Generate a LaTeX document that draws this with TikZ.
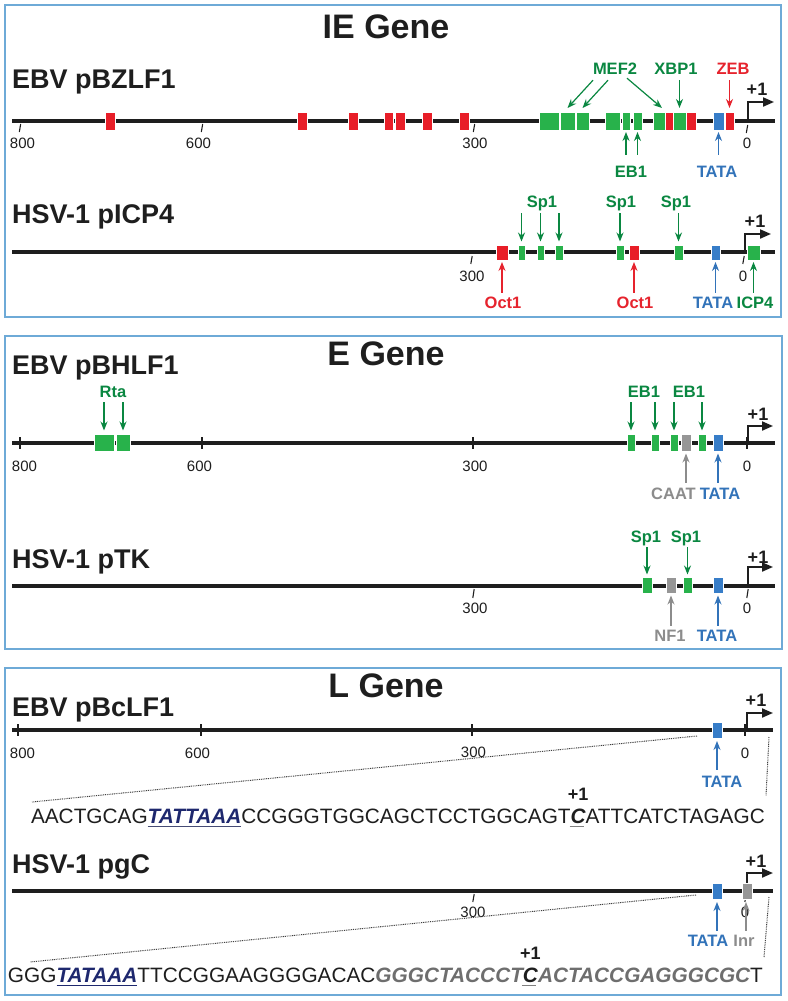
\documentclass[tikz,border=0pt]{standalone}
\usepackage{fontspec}
\setmainfont{Liberation Sans}
\usetikzlibrary{arrows.meta}
\definecolor{gbox}{RGB}{40,178,75}
\definecolor{gtxt}{RGB}{10,135,65}
\definecolor{rbox}{RGB}{232,30,40}
\definecolor{rtxt}{RGB}{230,35,45}
\definecolor{bbox}{RGB}{55,125,200}
\definecolor{btxt}{RGB}{50,115,185}
\definecolor{gybox}{RGB}{150,150,150}
\definecolor{gytxt}{RGB}{140,140,140}
\definecolor{navy}{RGB}{30,40,110}
\definecolor{frame}{RGB}{110,170,215}
\definecolor{ink}{RGB}{30,30,30}
\definecolor{seqgray}{RGB}{110,110,110}
\newcommand\mybox[4]{\node[bxs, fill=#3, minimum width=#4pt] (#1) at #2 {};}
\tikzset{
 dna/.style={line width=4pt, draw=ink},
 bxs/.style={rectangle, inner sep=0pt, outer sep=0pt, minimum height=17pt, draw=white, line width=0.4pt},
 gn/.style={anchor=base west, inner sep=0pt, text=ink, font={\fontsize{27}{30}\selectfont\bfseries}},
 ttl/.style={anchor=base, inner sep=0pt, text=ink, font={\fontsize{34}{38}\selectfont\bfseries}},
 lab/.style={anchor=base, inner sep=0pt, text height=12pt, text depth=0pt, font={\fontsize{16.5}{18}\selectfont\bfseries}},
 tk/.style={anchor=base, inner sep=0pt, text=ink, font={\fontsize{15}{17}\selectfont}},
 pone/.style={anchor=base, inner sep=0pt, text=ink, font={\fontsize{18}{20}\selectfont\bfseries}},
 sarr/.style={line width=1.2pt, -{Stealth[length=9pt,width=7pt]}},
 tss/.style={line width=2pt, draw=ink, -{Triangle[length=11pt,width=9pt]}},
 tick/.style={line width=1.1pt, draw=ink},
 frm/.style={draw=frame, line width=1.2pt},
 dotl/.style={dash pattern=on 0.9pt off 0.9pt, line width=1pt, draw=black!75},
 seq/.style={anchor=base west, inner sep=0pt, outer sep=0pt, text=ink, font={\fontsize{20.8}{24}\selectfont}},
 seqb/.style={seq, font={\fontsize{20.8}{24}\selectfont\bfseries\itshape}},
}
\begin{document}
\begin{tikzpicture}[x=1pt,y=-1pt]
\useasboundingbox[fill=white] (0,0) rectangle (787,1001);
% frames
\draw[frm] (5,5) rectangle (781,317);
\draw[frm] (5,336) rectangle (782,649);
\draw[frm] (5,668) rectangle (781,995);
% titles
\node[ttl] (T1) at (386,38) {IE Gene};
\node[ttl] (T2) at (386,365) {E Gene};
\node[ttl] (T3) at (386,697) {L Gene};
% gene names
\node[gn] (G1) at (12,88) {EBV pBZLF1};
\node[gn] (G2) at (12,223) {HSV-1 pICP4};
\node[gn] (G3) at (12,374) {EBV pBHLF1};
\node[gn] (G4) at (12,568) {HSV-1 pTK};
\node[gn] (G5) at (12,716) {EBV pBcLF1};
\node[gn] (G6) at (12,873) {HSV-1 pgC};

% ================= LINE 1 =================
\draw[dna] (12,121) -- (775,121);
\draw[tick] (20.7,124) -- (19.3,132);
\draw[tick] (202.7,124) -- (201.3,132);
\draw[tick] (474.7,124) -- (473.3,132);
\draw[tick] (747.7,125) -- (746.3,133);
\node[tk] (k11) at (22.5,148) {800};
\node[tk] (k12) at (198.5,148) {600};
\node[tk] (k13) at (475,148) {300};
\node[tk] (k14) at (747,148) {0};
\coordinate (s1) at (748,121); \coordinate (e1) at (774,102);
\draw[tss] (s1) |- (e1);
\node[pone] (p1) at (757,95) {+1};
\begin{scope}[bxs/.append style={minimum height=18pt}]
\mybox{a1}{(110,121)}{rbox}{10}
\mybox{a2}{(302.5,121)}{rbox}{10}
\mybox{a3}{(353,121)}{rbox}{10}
\mybox{a4}{(388.5,121)}{rbox}{9.5}
\mybox{a5}{(400,121)}{rbox}{10}
\mybox{a6}{(427,121)}{rbox}{10}
\mybox{a7}{(464.5,121)}{rbox}{10}
\mybox{g1}{(549,121)}{gbox}{20}
\mybox{g2}{(567.5,121)}{gbox}{15}
\mybox{g3}{(582.5,121)}{gbox}{13}
\mybox{g4}{(612.5,121)}{gbox}{15}
\mybox{g5}{(626,121)}{gbox}{8}
\mybox{g6}{(637.5,121)}{gbox}{9}
\mybox{g7}{(659,121)}{gbox}{12}
\mybox{r8}{(669,121)}{rbox}{8}
\mybox{g8}{(679.5,121)}{gbox}{13}
\mybox{r9}{(691,121)}{rbox}{10}
\mybox{bl1}{(718.5,121)}{bbox}{11}
\mybox{r10}{(729.5,121)}{rbox}{9}
\end{scope}
\node[lab, text=gtxt] (mef) at (615,74) {MEF2};
\node[lab, text=gtxt] (xbp) at (676,74) {XBP1};
\node[lab, text=rtxt] (zeb) at (733,74) {ZEB};
\node[lab, text=gtxt] (eb) at (631,177) {EB1};
\node[lab, text=btxt] (ta1) at (717,177) {TATA};
\draw[sarr, gtxt] ([xshift=-22pt,yshift=-6pt]mef.south) -- ([yshift=4pt]g2.north);
\draw[sarr, gtxt] ([xshift=-7pt,yshift=-6pt]mef.south) -- ([yshift=4pt]g3.north);
\draw[sarr, gtxt] ([xshift=12pt,yshift=-4pt]mef.south) -- ([xshift=3pt,yshift=4pt]g7.north);
\draw[sarr, gtxt, shorten <=6pt, shorten >=4pt] (g8.north |- xbp.south) -- (g8.north);
\draw[sarr, rtxt, shorten <=6pt, shorten >=4pt] (r10.north |- zeb.south) -- (r10.north);
\draw[sarr, gtxt, shorten <=10pt, shorten >=2pt] (g5.south |- eb.north) -- (g5.south);
\draw[sarr, gtxt, shorten <=10pt, shorten >=2pt] (g6.south |- eb.north) -- (g6.south);
\draw[sarr, btxt, shorten <=10pt, shorten >=2pt] (bl1.south |- ta1.north) -- (bl1.south);

% ================= LINE 2 =================
\draw[dna] (12,252) -- (775,252);
\draw[tick] (472.2,256) -- (470.8,264);
\draw[tick] (744.2,256) -- (742.8,264);
\node[tk] (k21) at (472,281) {300};
\node[tk] (k22) at (743,281) {0};
\coordinate (s2) at (745,252); \coordinate (e2) at (771,234);
\draw[tss] (s2) |- (e2);
\node[pone] (p2) at (755,227) {+1};
\begin{scope}[bxs/.append style={minimum height=15pt}]
\mybox{c1}{(502,252.5)}{rbox}{12}
\mybox{c2}{(521.5,252.5)}{gbox}{7}
\mybox{c3}{(540.5,252.5)}{gbox}{7}
\mybox{c4}{(559,252.5)}{gbox}{8}
\mybox{c5}{(620,252.5)}{gbox}{8}
\mybox{c6}{(634,252.5)}{rbox}{10}
\mybox{c7}{(678.5,252.5)}{gbox}{9}
\mybox{c8}{(715.5,252.5)}{bbox}{9}
\mybox{c9}{(753.5,252.5)}{gbox}{13}
\end{scope}
\node[lab, text=gtxt] (spa) at (542,207) {Sp1};
\node[lab, text=gtxt] (spb) at (621,207) {Sp1};
\node[lab, text=gtxt] (spc) at (676,207) {Sp1};
\node[lab, text=rtxt] (oca) at (503,308) {Oct1};
\node[lab, text=rtxt] (ocb) at (635,308) {Oct1};
\node[lab, text=btxt] (ta2) at (713,308) {TATA};
\node[lab, text=gtxt] (icp) at (755,308) {ICP4};
\draw[sarr, gtxt, shorten <=6pt, shorten >=3.5pt] (c2.north |- spa.south) -- (c2.north);
\draw[sarr, gtxt, shorten <=6pt, shorten >=3.5pt] (c3.north |- spa.south) -- (c3.north);
\draw[sarr, gtxt, shorten <=6pt, shorten >=3.5pt] (c4.north |- spa.south) -- (c4.north);
\draw[sarr, gtxt, shorten <=6pt, shorten >=3.5pt] (c5.north |- spb.south) -- (c5.north);
\draw[sarr, gtxt, shorten <=6pt, shorten >=3.5pt] (c7.north |- spc.south) -- (c7.north);
\draw[sarr, rtxt, shorten <=3pt, shorten >=2pt] (c1.south |- oca.north) -- (c1.south);
\draw[sarr, rtxt, shorten <=3pt, shorten >=2pt] (c6.south |- ocb.north) -- (c6.south);
\draw[sarr, btxt, shorten <=3pt, shorten >=2pt] (c8.south |- ta2.north) -- (c8.south);
\draw[sarr, gtxt, shorten <=3pt, shorten >=2pt] (c9.south |- icp.north) -- (c9.south);

% ================= LINE 3 =================
\draw[dna] (12,443) -- (775,443);
\draw[tick] (20,437) -- (20,449);
\draw[tick] (202,437) -- (202,449);
\draw[tick] (473,437) -- (473,449);
\draw[tick] (747,437) -- (747,449);
\node[tk] (k31) at (24.5,471) {800};
\node[tk] (k32) at (199.5,471) {600};
\node[tk] (k33) at (475,471) {300};
\node[tk] (k34) at (747,471) {0};
\coordinate (s3) at (748,443); \coordinate (e3) at (773,426);
\draw[tss] (s3) |- (e3);
\node[pone] (p3) at (758,420) {+1};
\mybox{d1}{(104,443)}{gbox}{20}
\mybox{d2}{(123,443)}{gbox}{14}
\mybox{d3}{(631,443)}{gbox}{8}
\mybox{d4}{(655,443)}{gbox}{8}
\mybox{d5}{(674,443)}{gbox}{8}
\mybox{d6}{(686,443)}{gybox}{10}
\mybox{d7}{(702,443)}{gbox}{8}
\mybox{d8}{(718,443)}{bbox}{10}
\node[lab, text=gtxt] (rta) at (113,397) {Rta};
\node[lab, text=gtxt] (eba) at (644,397) {EB1};
\node[lab, text=gtxt] (ebb) at (689,397) {EB1};
\node[lab, text=gytxt] (caat) at (673.5,499) {CAAT};
\node[lab, text=btxt] (ta3) at (720,499) {TATA};
\draw[sarr, gtxt, shorten <=5pt, shorten >=4pt] (d1.north |- rta.south) -- (d1.north);
\draw[sarr, gtxt, shorten <=5pt, shorten >=4pt] (d2.north |- rta.south) -- (d2.north);
\draw[sarr, gtxt, shorten <=5pt, shorten >=4pt] (d3.north |- eba.south) -- (d3.north);
\draw[sarr, gtxt, shorten <=5pt, shorten >=4pt] (d4.north |- eba.south) -- (d4.north);
\draw[sarr, gtxt, shorten <=5pt, shorten >=4pt] (d5.north |- ebb.south) -- (d5.north);
\draw[sarr, gtxt, shorten <=5pt, shorten >=4pt] (d7.north |- ebb.south) -- (d7.north);
\draw[sarr, gytxt, shorten <=4pt, shorten >=2pt] (d6.south |- caat.north) -- (d6.south);
\draw[sarr, btxt, shorten <=4pt, shorten >=2pt] (d8.south |- ta3.north) -- (d8.south);

% ================= LINE 4 =================
\draw[dna] (12,586) -- (775,586);
\draw[tick] (474.2,589) -- (472.8,598);
\draw[tick] (748.2,589) -- (746.8,598);
\node[tk] (k41) at (475,613) {300};
\node[tk] (k42) at (747,613) {0};
\coordinate (s4) at (748,586); \coordinate (e4) at (773,567);
\draw[tss] (s4) |- (e4);
\node[pone] (p4) at (758,563) {+1};
\begin{scope}[bxs/.append style={minimum height=16pt}]
\mybox{f1}{(647,585.5)}{gbox}{10}
\mybox{f2}{(671,585.5)}{gybox}{10}
\mybox{f3}{(687.5,585.5)}{gbox}{9}
\mybox{f4}{(718,585.5)}{bbox}{10}
\end{scope}
\node[lab, text=gtxt] (spd) at (646,542) {Sp1};
\node[lab, text=gtxt] (spe) at (686,542) {Sp1};
\node[lab, text=gytxt] (nf) at (670,641) {NF1};
\node[lab, text=btxt] (ta4) at (717,641) {TATA};
\draw[sarr, gtxt, shorten <=5pt, shorten >=3pt] (f1.north |- spd.south) -- (f1.north);
\draw[sarr, gtxt, shorten <=5pt, shorten >=3pt] (f3.north |- spe.south) -- (f3.north);
\draw[sarr, gytxt, shorten <=3pt, shorten >=2pt] (f2.south |- nf.north) -- (f2.south);
\draw[sarr, btxt, shorten <=3pt, shorten >=2pt] (f4.south |- ta4.north) -- (f4.south);

% ================= LINE 5 =================
\draw[dna] (12,730) -- (773,730);
\draw[tick] (18,724) -- (18,736);
\draw[tick] (201,724) -- (201,736);
\draw[tick] (472,724) -- (472,736);
\draw[tick] (745,724) -- (745,736);
\node[tk] (k51) at (22.5,758) {800};
\node[tk] (k52) at (197.5,758) {600};
\node[tk] (k53) at (473.5,757) {300};
\node[tk] (k54) at (745,758) {0};
\coordinate (s5) at (747,730); \coordinate (e5) at (773,713);
\draw[tss] (s5) |- (e5);
\node[pone] (p5) at (756,706) {+1};
\begin{scope}[bxs/.append style={minimum height=16pt}]
\mybox{h1}{(717,730)}{bbox}{10}
\end{scope}
\node[lab, text=btxt] (ta5) at (722,787) {TATA};
\draw[sarr, btxt, shorten <=5pt, shorten >=3pt] (h1.south |- ta5.north) -- (h1.south);
\coordinate (z1a) at (697,736); \coordinate (z1b) at (32,802);
\coordinate (z1c) at (769,737); \coordinate (z1d) at (766,796);
\draw[dotl] (z1a) -- (z1b);
\draw[dotl] (z1c) -- (z1d);
% sequence 1
\node[seq] (sa1) at (31,823) {AACTGCAG};
\node[seqb, text=navy] (sa2) at (sa1.base east) {TATTAAA};
\node[seq] (sa3) at (sa2.base east) {CCGGGTGGCAGCTCCTGGCAGT};
\node[seqb] (sa4) at (sa3.base east) {C};
\node[seq] (sa5) at (sa4.base east) {ATTCATCTAGAGC};
\draw[navy!60!gray, line width=1pt] ([yshift=-3pt]sa2.base west) -- ([yshift=-3pt]sa2.base east);
\draw[gray, line width=1pt] ([xshift=-1pt,yshift=-3pt]sa4.base west) -- ([xshift=-2pt,yshift=-3pt]sa4.base east);
\node[pone] (q1) at ([yshift=8pt]sa4.north) {+1};

% ================= LINE 6 =================
\draw[dna] (12,891) -- (773,891);
\draw[tick] (474.2,894) -- (472.8,902);
\draw[tick] (746.2,895) -- (744.8,902);
\node[tk] (k61) at (473,917) {300};
\node[tk] (k62) at (745,917) {0};
\coordinate (s6) at (747,891); \coordinate (e6) at (773,873);
\draw[tss] (s6) |- (e6);
\node[pone] (p6) at (756,867) {+1};
\begin{scope}[bxs/.append style={minimum height=16pt}]
\mybox{i1}{(717,891)}{bbox}{10}
\mybox{i2}{(747,891)}{gybox}{10}
\end{scope}
\node[lab, text=btxt] (ta6) at (708,946) {TATA};
\node[lab, text=gytxt] (inr) at (744,946) {Inr};
\draw[sarr, btxt, shorten <=3pt, shorten >=3pt] (i1.south |- ta6.north) -- (i1.south);
\draw[sarr, gytxt, shorten <=3pt, shorten >=3pt] ([xshift=-1pt]i2.south |- inr.north) -- ([xshift=-1pt]i2.south);
\coordinate (z2a) at (696,895); \coordinate (z2b) at (30,962);
\coordinate (z2c) at (769,897); \coordinate (z2d) at (764,957);
\draw[dotl] (z2a) -- (z2b);
\draw[dotl] (z2c) -- (z2d);
% sequence 2
\node[seq] (sb1) at (8,982) {GGG};
\node[seqb, text=navy] (sb2) at (sb1.base east) {TATAAA};
\node[seq] (sb3) at (sb2.base east) {TTCCGGAAGGGGACAC};
\node[seqb, text=seqgray] (sb4) at (sb3.base east) {GGGCTACCCT};
\node[seqb] (sb5) at (sb4.base east) {C};
\node[seqb, text=seqgray] (sb6) at (sb5.base east) {ACTACCGAGGGCGC};
\node[seq] (sb7) at (sb6.base east) {T};
\draw[navy, line width=1pt] ([yshift=-3pt]sb2.base west) -- ([yshift=-3pt]sb2.base east);
\draw[gray, line width=1pt] ([xshift=-1pt,yshift=-3pt]sb5.base west) -- ([xshift=-2pt,yshift=-3pt]sb5.base east);
\node[pone] (q2) at ([yshift=8pt]sb5.north) {+1};
\end{tikzpicture}
\end{document}
